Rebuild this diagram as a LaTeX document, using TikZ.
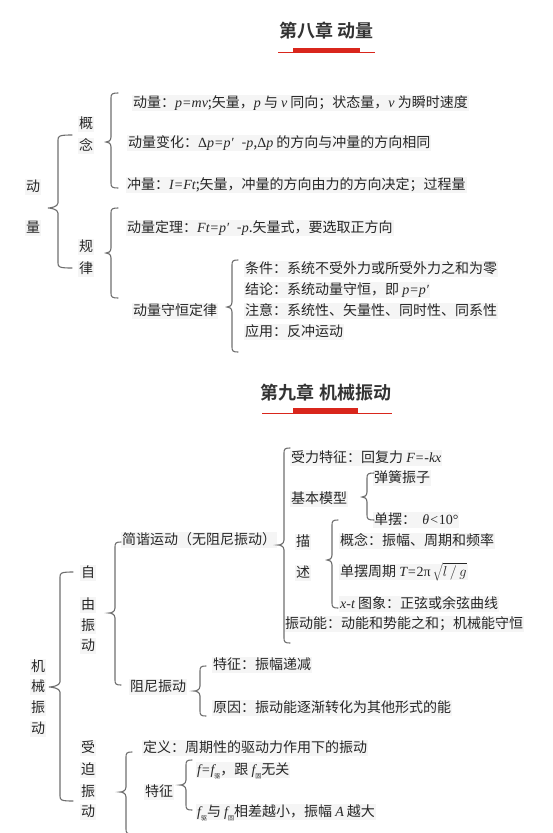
\documentclass[tikz,border=0pt]{standalone}
\usepackage{fontspec}
\setmainfont{Noto Sans CJK SC}[BoldFont={Noto Sans CJK SC Bold}]
\newfontfamily\lat{Liberation Serif}
\newcommand\mv[1]{{\lat\itshape #1}}
\newcommand\subq[1]{\raisebox{-0.5ex}{\fontsize{6}{6}\selectfont #1}}
\definecolor{titlered}{HTML}{D9261C}
\definecolor{txtgray}{HTML}{262626}
\definecolor{bracegray}{HTML}{6E6E6E}
\newcommand\brc[6]{\draw[bracepath] ({#1+#5},#2) .. controls ({#1+1},#2) and (#1,{#2+1}) .. (#1,{#2+5}) -- (#1,{#3-5}) .. controls (#1,{#3-1}) and ({#1-#6+2},#3) .. ({#1-#6},#3) .. controls ({#1-#6+2},#3) and (#1,{#3+1}) .. (#1,{#3+5}) -- (#1,{#4-5}) .. controls (#1,{#4-1}) and ({#1+1},#4) .. ({#1+#5},#4);}
\begin{document}
\begin{tikzpicture}[x=1pt,y=-1pt,
  txt/.style={anchor=west, inner sep=1pt, fill=black!4, text=txtgray, font=\fontsize{14}{16}\selectfont, text height=11.5pt, text depth=2.5pt},
  ch/.style={txt, anchor=center},
  ttl/.style={text=black!80, font=\fontsize{18}{20}\selectfont\bfseries, inner sep=0pt},
  bracepath/.style={draw=bracegray, line width=1.1pt, line cap=round},
  redline/.style={draw=titlered, line width=1pt},
  redbar/.style={fill=titlered, draw=none}]
\useasboundingbox (0,0) rectangle (553,833);
\clip (0,0) rectangle (553,833);
% ---------- Chapter 8 ----------
\node[ttl] (t8) at (326.5,31) {第八章 动量};
\draw[redline] (278,52.6) -- (375,52.6);
\fill[redbar] (293,47.8) rectangle (360,53);
\node[ch] (dong) at (33,187) {动};
\node[ch] (liang) at (33,228) {量};
\node[ch] (gai) at (86,124) {概};
\node[ch] (nian) at (86,146) {念};
\node[ch] (gui) at (86,247) {规};
\node[ch] (lv) at (86,269) {律};
\node[txt] (r1) at (132,103) {动量：\mv{p=mv};矢量，\mv{p} 与 \mv{v} 同向；状态量，\mv{v} 为瞬时速度};
\node[txt] (r2) at (127,143) {动量变化：{\lat Δ}\mv{p=p′}\,\, -\mv{p},{\lat Δ}\mv{p} 的方向与冲量的方向相同};
\node[txt] (r3) at (126,185) {冲量：\mv{I=Ft};矢量，冲量的方向由力的方向决定；过程量};
\node[txt] (r4) at (126,228) {动量定理：\mv{Ft=p′}\,\, -\mv{p}.矢量式，要选取正方向};
\node[txt] (shd) at (132,311) {动量守恒定律};
\node[txt] (c1) at (244,269) {条件：系统不受外力或所受外力之和为零};
\node[txt] (c2) at (244,290) {结论：系统动量守恒，即 \mv{p=p′}};
\node[txt] (c3) at (244,311) {注意：系统性、矢量性、同时性、同系性};
\node[txt] (c4) at (244,332) {应用：反冲运动};
\brc{58}{135}{208}{268}{14}{10}
\brc{111}{93}{142}{188}{7}{5}
\brc{111}{208}{253}{298}{7}{5}
\brc{232}{260}{307}{352}{6}{5}
% ---------- Chapter 9 ----------
\node[ttl] (t9) at (326,393) {第九章 机械振动};
\draw[redline] (262,413.3) -- (392,413.3);
\fill[redbar] (293,408.3) rectangle (358,413.8);
\node[txt] (f1) at (290,458) {受力特征：回复力 \mv{F=-kx}};
\node[txt] (m1) at (373,478) {弹簧振子};
\node[txt] (jbmx) at (290,499) {基本模型};
\node[txt] (m2) at (373,520) {单摆：\ \ \mv{θ<}{\lat 10°}};
\node[ch] (miao) at (303,542) {描};
\node[ch] (shu) at (303,573) {述};
\node[txt] (d1) at (339,541) {概念：振幅、周期和频率};
\node[txt] (d2) at (339,572) {单摆周期 \mv{T=}{\lat 2π}\,$\sqrt{l\,/\,g}$};
\node[txt] (d3) at (339,604) {\mv{x-t} 图象：正弦或余弦曲线};
\node[txt] (e1) at (284,624) {振动能：动能和势能之和；机械能守恒};
\node[txt] (jx) at (121,540) {简谐运动（无阻尼振动）};
\node[ch] (zi) at (88,573) {自};
\node[ch] (you) at (88,605) {由};
\node[ch] (zhen1) at (88,626) {振};
\node[ch] (dong1) at (88,646) {动};
\node[ch] (ji) at (38,667) {机};
\node[ch] (xie) at (38,687) {械};
\node[ch] (zhen0) at (38,708) {振};
\node[ch] (dong0) at (38,729) {动};
\node[txt] (zn) at (129,687) {阻尼振动};
\node[txt] (z1) at (212,665) {特征：振幅递减};
\node[txt] (z2) at (212,708) {原因：振动能逐渐转化为其他形式的能};
\node[ch] (shou) at (88,748) {受};
\node[ch] (po) at (88,770) {迫};
\node[ch] (zhen2) at (88,792) {振};
\node[ch] (dong2) at (88,812) {动};
\node[txt] (dy) at (142,748) {定义：周期性的驱动力作用下的振动};
\node[txt] (tz) at (144,792) {特征};
\node[txt] (g1) at (196,770) {\mv{f=f}\subq{驱}，跟 \mv{f}\subq{固}无关};
\node[txt] (g2) at (196,812) {\mv{f}\subq{驱}与 \mv{f}\subq{固}相差越小，振幅 \mv{A} 越大};
\brc{60}{572}{687}{801}{13}{11}
\brc{115}{542}{613}{685}{6}{6}
\brc{284}{448}{545}{643}{6}{6}
\brc{367}{473}{497}{520}{7}{5}
\brc{332}{520}{560}{608}{6}{5}
\brc{200}{666}{691}{716}{6}{6}
\brc{126}{752}{792}{834}{6}{6}
\brc{186}{760}{785}{810}{6}{6}
\end{tikzpicture}
\end{document}
